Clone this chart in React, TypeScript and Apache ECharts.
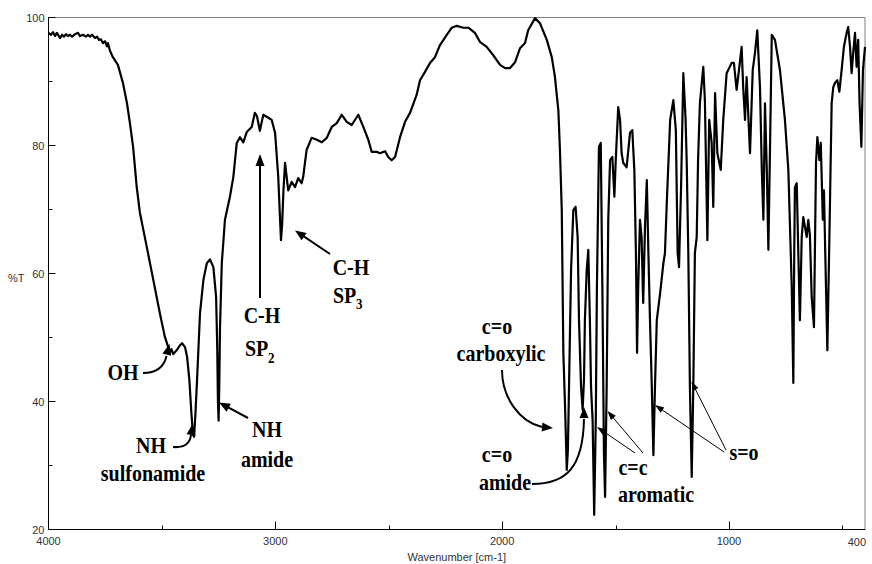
import React, { useEffect, useRef } from "react";
import * as echarts from "echarts";

// Wavenumber (cm-1) of each traced point of the spectrum
const wavenumber = [
  4000, 3989, 3980, 3971, 3963, 3949, 3940, 3932, 3923, 3914, 3905, 3896, 3883, 3870, 3861, 3848,
  3835, 3826, 3817, 3808, 3795, 3786, 3777, 3769, 3760, 3751, 3742, 3738, 3729, 3716, 3694, 3672,
  3654, 3641, 3627, 3611, 3597, 3567, 3538, 3509, 3487, 3472, 3464, 3458, 3450, 3435, 3420, 3411,
  3398, 3389, 3379, 3370, 3363, 3358, 3352, 3345, 3332, 3317, 3302, 3288, 3273, 3261, 3256, 3253,
  3250, 3247, 3244, 3236, 3222, 3200, 3185, 3170, 3156, 3141, 3126, 3104, 3090, 3081, 3068, 3053,
  3038, 3016, 3001, 2987, 2979, 2975, 2970, 2964, 2957, 2950, 2943, 2928, 2913, 2899, 2884, 2877,
  2862, 2840, 2817, 2795, 2773, 2751, 2729, 2707, 2685, 2663, 2634, 2612, 2590, 2575, 2553, 2538,
  2516, 2502, 2487, 2472, 2450, 2428, 2406, 2377, 2362, 2340, 2318, 2296, 2274, 2244, 2222, 2200,
  2171, 2149, 2120, 2098, 2068, 2039, 2009, 1987, 1965, 1943, 1921, 1899, 1885, 1855, 1833, 1803,
  1781, 1767, 1752, 1745, 1737, 1730, 1723, 1715, 1710, 1705, 1696, 1686, 1676, 1667, 1661, 1652,
  1645, 1639, 1635, 1627, 1620, 1613, 1608, 1601, 1594, 1587, 1582, 1573, 1565, 1558, 1551, 1546,
  1539, 1532, 1524, 1514, 1505, 1499, 1488, 1480, 1473, 1466, 1451, 1436, 1426, 1417, 1410, 1405,
  1400, 1392, 1385, 1378, 1370, 1362, 1355, 1348, 1340, 1333, 1326, 1318, 1303, 1289, 1282, 1274,
  1259, 1245, 1234, 1226, 1220, 1211, 1201, 1191, 1186, 1179, 1172, 1164, 1157, 1150, 1142, 1136,
  1128, 1113, 1106, 1095, 1087, 1076, 1069, 1061, 1051, 1036, 1025, 1010, 988, 978, 966, 954,
  944, 937, 929, 922, 907, 895, 885, 875, 863, 855, 848, 841, 833, 826, 819, 811,
  797, 775, 753, 738, 723, 716, 712, 709, 701, 694, 687, 679, 672, 657, 650, 643,
  635, 625, 621, 616, 610, 601, 595, 586, 581, 572, 566, 557, 547, 540, 532, 522,
  513, 503, 493, 481, 474, 466, 459, 452, 444, 437, 430, 424, 416, 409, 400,
];

// Transmittance (%T) at each wavenumber above
const transmittance = [
  97.6, 97.3, 97.7, 97.1, 97.6, 96.8, 97.3, 97.0, 97.4, 97.1, 97.3, 97.0, 97.4, 97.6, 97.1, 97.3,
  97.0, 97.3, 97.0, 97.3, 96.8, 97.0, 96.5, 96.6, 96.0, 96.3, 95.5, 96.0, 94.8, 93.8, 92.6, 89.8,
  86.6, 83.5, 79.8, 73.5, 69.5, 64.2, 59.0, 53.8, 50.1, 48.5, 47.7, 48.2, 47.4, 48.0, 48.8, 49.1,
  48.5, 47.0, 43.4, 38.2, 34.8, 34.5, 38.2, 43.4, 53.8, 59.0, 61.6, 62.2, 61.0, 56.3, 48.5, 40.2,
  37.0, 42.6, 51.2, 61.6, 68.4, 72.0, 75.1, 80.4, 81.3, 80.5, 82.1, 82.9, 85.1, 84.6, 82.3, 84.8,
  84.5, 84.0, 82.0, 75.1, 68.4, 65.2, 67.6, 73.0, 77.3, 75.1, 73.0, 74.3, 73.5, 74.9, 74.1, 75.1,
  79.3, 81.2, 80.9, 80.5, 81.2, 82.9, 83.5, 84.8, 83.7, 83.2, 84.8, 82.9, 80.9, 79.0, 79.0, 78.8,
  79.1, 78.2, 77.7, 78.2, 81.3, 83.7, 85.1, 87.9, 90.2, 91.5, 92.9, 93.8, 95.7, 97.3, 98.4, 98.7,
  98.4, 98.4, 97.6, 96.2, 95.4, 94.1, 92.6, 92.1, 92.1, 93.0, 95.2, 96.0, 98.0, 99.9, 99.1, 96.5,
  93.8, 90.7, 85.5, 79.3, 69.9, 47.6, 39.8, 29.3, 32.4, 42.3, 60.5, 69.9, 70.4, 65.7, 52.7, 42.3,
  38.7, 43.4, 52.7, 60.5, 63.7, 52.7, 42.3, 37.1, 22.3, 37.1, 57.9, 79.8, 80.4, 57.9, 32.0, 25.1,
  42.3, 68.4, 77.7, 78.2, 72.0, 77.7, 86.0, 84.0, 78.8, 77.3, 76.6, 82.0, 82.4, 76.2, 63.2, 47.6,
  57.9, 68.4, 65.7, 55.4, 67.3, 74.6, 63.2, 52.7, 42.3, 31.6, 42.3, 52.7, 57.0, 61.6, 63.2, 71.0,
  84.0, 87.1, 82.4, 63.2, 61.0, 73.5, 91.3, 84.0, 77.3, 63.2, 42.3, 28.2, 42.3, 63.2, 65.7, 77.7,
  86.6, 92.3, 87.1, 65.2, 84.0, 80.4, 70.4, 88.2, 78.8, 76.2, 84.0, 91.3, 92.9, 92.9, 88.7, 92.3,
  95.4, 89.1, 84.0, 90.7, 78.8, 91.8, 94.5, 98.0, 89.1, 76.2, 68.4, 86.6, 76.2, 63.7, 79.3, 97.3,
  96.5, 91.8, 84.0, 76.2, 57.9, 42.9, 63.2, 73.5, 74.1, 63.2, 52.7, 65.7, 68.8, 65.7, 68.4, 66.0,
  56.3, 51.6, 63.2, 77.3, 81.3, 77.7, 80.4, 68.4, 73.0, 57.9, 48.0, 65.7, 86.6, 89.1, 89.8, 90.2,
  88.4, 91.8, 95.4, 97.6, 98.5, 95.4, 91.3, 94.5, 97.6, 92.3, 96.5, 86.6, 79.8, 91.8, 95.4,
];

const xMajorTicks = [4000, 3000, 2000, 1000];
const xMinorTicks = [3500, 2500, 1500, 500];
const xEndLabel = "400";
const xMin = 400;
const xMax = 4000;
const yMin = 20;
const yMax = 100;
const yStep = 20;
const xAxisTitle = "Wavenumber [cm-1]";
const yAxisTitle = "%T";

const SERIF = '"Liberation Serif", "Times New Roman", serif';
const SANS = '"Liberation Sans", Arial, sans-serif';

function label(text: string, x: number, y: number, size = 20, align = "center") {
  return {
    type: "text",
    x,
    y,
    scaleY: 1.12,
    z: 20,
    style: {
      text,
      fontSize: size,
      fontWeight: "bold",
      fontFamily: SERIF,
      fill: "#000",
      align,
      verticalAlign: "middle",
    },
  };
}

function head(tip: number[], from: number[], len: number, hw: number) {
  const dx = tip[0] - from[0];
  const dy = tip[1] - from[1];
  const d = Math.hypot(dx, dy);
  const ux = dx / d;
  const uy = dy / d;
  const bx = tip[0] - ux * len;
  const by = tip[1] - uy * len;
  return {
    type: "polygon",
    z: 20,
    shape: {
      points: [
        [tip[0], tip[1]],
        [bx - uy * hw, by + ux * hw],
        [bx + uy * hw, by - ux * hw],
      ],
    },
    style: { fill: "#000" },
  };
}

function straightArrow(from: number[], tip: number[], width: number, len: number, hw: number) {
  const dx = tip[0] - from[0];
  const dy = tip[1] - from[1];
  const d = Math.hypot(dx, dy);
  const end = [tip[0] - (dx / d) * len * 0.8, tip[1] - (dy / d) * len * 0.8];
  return [
    {
      type: "line",
      z: 20,
      shape: { x1: from[0], y1: from[1], x2: end[0], y2: end[1] },
      style: { stroke: "#000", lineWidth: width },
    },
    head(tip, from, len, hw),
  ];
}

function curvedArrow(start: number[], c1: number[], c2: number[], end: number[], tip: number[]) {
  return [
    {
      type: "bezierCurve",
      z: 20,
      shape: {
        x1: start[0], y1: start[1],
        cpx1: c1[0], cpy1: c1[1],
        cpx2: c2[0], cpy2: c2[1],
        x2: end[0], y2: end[1],
      },
      style: { stroke: "#000", lineWidth: 2, fill: null },
    },
    head(tip, end, 11, 4.5),
  ];
}

export default function App() {
  const ref = useRef<HTMLDivElement>(null);

  useEffect(() => {
    if (!ref.current) return;
    const chart = echarts.init(ref.current, null, { renderer: "svg" });
    const data = wavenumber.map((w, i) => [w, transmittance[i]]);

    const graphics: any[] = [
      {
        type: "text", x: 8, y: 278,
        style: { text: yAxisTitle, fontSize: 11, fontFamily: SANS, fill: "#333", align: "left", verticalAlign: "middle" },
      },
      {
        type: "text", x: 866, y: 542,
        style: { text: xEndLabel, fontSize: 11, fontFamily: SANS, fill: "#333", align: "right", verticalAlign: "middle" },
      },
      label("OH", 123, 373),
      label("NH", 151, 446),
      label("sulfonamide", 153, 474),
      label("NH", 267, 430),
      label("amide", 267, 460),
      label("C-H", 262, 316),
      label("SP", 245, 349, 20, "left"),
      label("2", 268, 358, 13, "left"),
      label("C-H", 351, 268),
      label("SP", 333, 296, 20, "left"),
      label("3", 356, 304, 13, "left"),
      label("c=o", 497, 327),
      label("carboxylic", 501, 354),
      label("c=o", 497, 455),
      label("amide", 505, 483),
      label("c=c", 633, 468),
      label("aromatic", 656, 495),
      label("s=o", 744, 453),
      ...curvedArrow([143, 373], [156, 373], [164, 367], [166.5, 356], [169.5, 344]),
      ...curvedArrow([173, 447], [185, 448], [190, 443], [191, 435], [192.5, 424]),
      ...straightArrow([248, 418], [219, 402.5], 2, 11, 4.5),
      ...straightArrow([260, 298], [260, 154], 2, 12, 4.5),
      ...straightArrow([330, 254], [295, 230.5], 2, 11, 4.5),
      ...curvedArrow([502, 370], [502, 398], [520, 422], [542, 427], [553, 428]),
      ...curvedArrow([532, 484], [566, 484], [583, 468], [584, 419], [584, 407]),
      ...straightArrow([635, 453], [597, 427], 1, 9, 3.2),
      ...straightArrow([643, 453], [607.5, 411], 1, 9, 3.2),
      ...straightArrow([724, 452], [655, 405], 1, 9, 3.2),
      ...straightArrow([726, 450], [691.5, 381.5], 1, 9, 3.2),
    ];

    chart.setOption({
      animation: false,
      backgroundColor: "#fff",
      grid: {
        left: 48.5,
        right: 7,
        top: 17.5,
        bottom: 34.5,
        show: true,
        borderColor: "#808080",
        borderWidth: 1,
        backgroundColor: "transparent",
        containLabel: false,
        outerBoundsMode: "none",
      },
      xAxis: {
        type: "value",
        min: xMin,
        max: xMax,
        inverse: true,
        position: "bottom",
        name: xAxisTitle,
        nameLocation: "middle",
        nameGap: 22,
        nameTextStyle: { fontSize: 11, fontFamily: SANS, color: "#333" },
        axisLine: { show: true, onZero: false, lineStyle: { color: "#000", width: 1 } },
        axisTick: { show: true, inside: true, length: 8, customValues: xMajorTicks, lineStyle: { color: "#000" } },
        axisLabel: {
          show: true,
          customValues: xMajorTicks,
          formatter: (v: number) => String(v),
          fontSize: 11,
          fontFamily: SANS,
          color: "#333",
          margin: 6,
        },
        splitLine: { show: false },
      },
      yAxis: {
        type: "value",
        min: yMin,
        max: yMax,
        interval: yStep,
        axisLine: { show: true, lineStyle: { color: "#000", width: 1 } },
        axisTick: { show: true, inside: true, length: 7, lineStyle: { color: "#000" } },
        minorTick: { show: true, splitNumber: 2, length: 4, lineStyle: { color: "#000" } },
        axisLabel: { fontSize: 11, fontFamily: SANS, color: "#333", margin: 4 },
        splitLine: { show: false },
        minorSplitLine: { show: false },
      },
      series: [
        {
          type: "line",
          data,
          showSymbol: false,
          symbol: "none",
          silent: true,
          lineStyle: { color: "#000", width: 2.2, join: "round" },
        },
      ],
      graphic: graphics,
    });

    // minor x ticks (500 cm-1 steps) placed through the axis scale
    const yBottom = chart.convertToPixel({ yAxisIndex: 0 }, yMin) as number;
    const minorTicks = xMinorTicks.map((v) => {
      const px = chart.convertToPixel({ xAxisIndex: 0 }, v) as number;
      const x = Math.round(px) + 0.5;
      return {
        type: "line",
        z: 5,
        shape: { x1: x, y1: yBottom, x2: x, y2: yBottom - 4 },
        style: { stroke: "#000", lineWidth: 1 },
      };
    });
    chart.setOption({ graphic: [...graphics, ...minorTicks] });

    return () => chart.dispose();
  }, []);

  return (
    <div
      ref={ref}
      style={{ position: "fixed", left: 0, top: 0, width: 872, height: 564 }}
    />
  );
}
